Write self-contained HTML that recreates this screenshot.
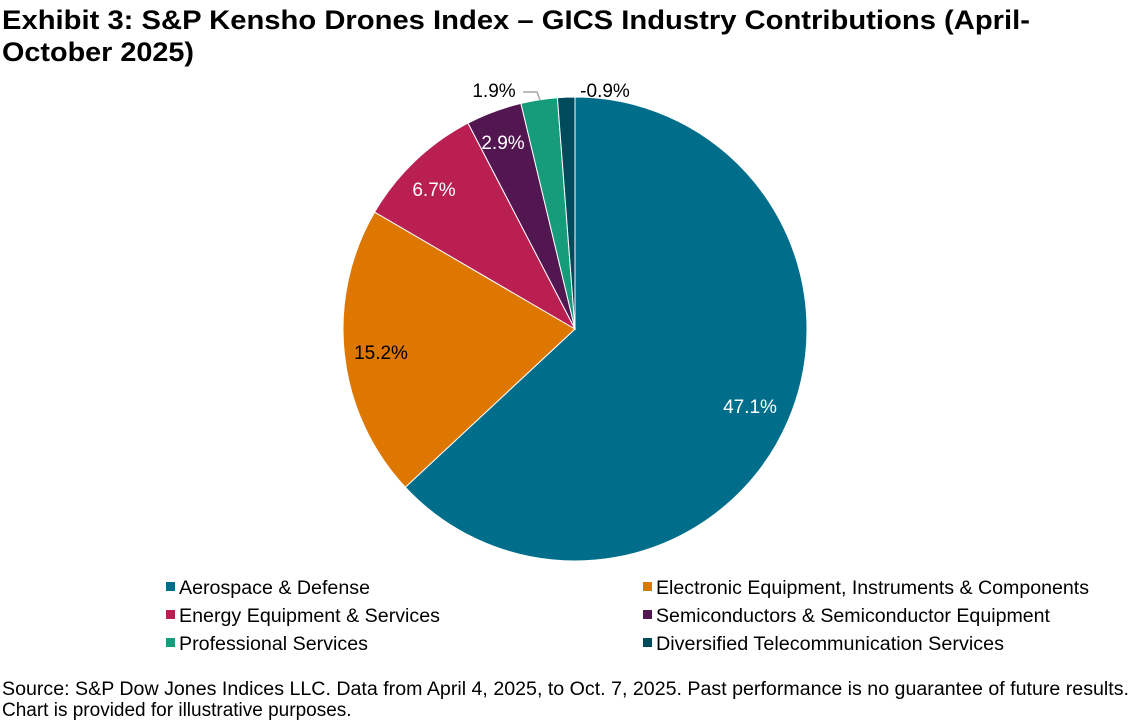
<!DOCTYPE html>
<html><head><meta charset="utf-8"><style>
body{margin:0;background:#fff;width:1131px;height:720px;overflow:hidden;font-family:"Liberation Sans",Arial,sans-serif;}
</style></head><body>
<svg width="1131" height="720" xmlns="http://www.w3.org/2000/svg" font-family="Liberation Sans, Arial, sans-serif">
<text x="2" y="29" font-size="27" font-weight="bold" fill="#000" textLength="1028" lengthAdjust="spacingAndGlyphs">Exhibit 3: S&amp;P Kensho Drones Index – GICS Industry Contributions (April-</text>
<text x="2" y="61" font-size="27" font-weight="bold" fill="#000" textLength="192" lengthAdjust="spacingAndGlyphs">October 2025)</text>
<g stroke="#fff" stroke-width="1">
<path d="M575,329 L575,97 A232,232 0 1 1 405.3,487.2 Z" fill="#006e8a"/>
<path d="M575,329 L405.3,487.2 A232,232 0 0 1 374.6,212.1 Z" fill="#dd7700"/>
<path d="M575,329 L374.6,212.1 A232,232 0 0 1 468.0,123.1 Z" fill="#b91f51"/>
<path d="M575,329 L468.0,123.1 A232,232 0 0 1 520.9,103.4 Z" fill="#521651"/>
<path d="M575,329 L520.9,103.4 A232,232 0 0 1 557.4,97.7 Z" fill="#169c7a"/>
<path d="M575,329 L557.4,97.7 A232,232 0 0 1 575,97 Z" fill="#004b5b"/>
</g>
<polyline points="523,92 537,92 540,100" fill="none" stroke="#a6a6a6" stroke-width="1.5"/>
<g font-size="19">
<text x="750" y="413" fill="#fff" text-anchor="middle">47.1%</text>
<text x="381" y="359" fill="#000" text-anchor="middle">15.2%</text>
<text x="434" y="196" fill="#fff" text-anchor="middle">6.7%</text>
<text x="503" y="149" fill="#fff" text-anchor="middle">2.9%</text>
<text x="494" y="97" fill="#000" text-anchor="middle">1.9%</text>
<text x="605" y="97" fill="#000" text-anchor="middle">-0.9%</text>
</g>
<g font-size="19" fill="#000" lengthAdjust="spacingAndGlyphs">
<rect x="166" y="582" width="9" height="9" fill="#006e8a"/><text x="179" y="594" textLength="191" lengthAdjust="spacingAndGlyphs">Aerospace &amp; Defense</text>
<rect x="643" y="582" width="9" height="9" fill="#dd7700"/><text x="656" y="594" textLength="433" lengthAdjust="spacingAndGlyphs">Electronic Equipment, Instruments &amp; Components</text>
<rect x="166" y="610" width="9" height="9" fill="#b91f51"/><text x="179" y="622" textLength="261" lengthAdjust="spacingAndGlyphs">Energy Equipment &amp; Services</text>
<rect x="643" y="610" width="9" height="9" fill="#521651"/><text x="656" y="622" textLength="394" lengthAdjust="spacingAndGlyphs">Semiconductors &amp; Semiconductor Equipment</text>
<rect x="166" y="638" width="9" height="9" fill="#169c7a"/><text x="179" y="650" textLength="189" lengthAdjust="spacingAndGlyphs">Professional Services</text>
<rect x="643" y="638" width="9" height="9" fill="#004b5b"/><text x="656" y="650" textLength="348" lengthAdjust="spacingAndGlyphs">Diversified Telecommunication Services</text>
</g>
<g font-size="19" fill="#000">
<text x="2" y="695" textLength="1127" lengthAdjust="spacingAndGlyphs">Source: S&amp;P Dow Jones Indices LLC. Data from April 4, 2025, to Oct. 7, 2025. Past performance is no guarantee of future results.</text>
<text x="2" y="716">Chart is provided for illustrative purposes.</text>
</g>
</svg>
</body></html>
